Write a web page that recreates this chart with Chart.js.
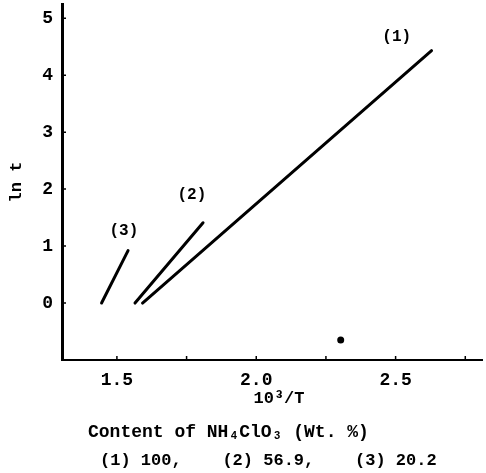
<!DOCTYPE html>
<html>
<head>
<meta charset="utf-8">
<script src="https://cdn.jsdelivr.net/npm/chart.js@4"></script>
<style>
  body { margin: 0; background: #fff; }
  canvas { display: block; }
</style>
</head>
<body>
<canvas id="myChart" width="486" height="473"></canvas>
<script>
// values (x = 10^3/T, y = ln t)
var line1X = [1.592, 2.629];
var line1Y = [0, 4.43];
var line2X = [1.565, 1.809];
var line2Y = [0, 1.41];
var line3X = [1.445, 1.540];
var line3Y = [0, 0.92];
var dotX = [2.303];
var dotY = [-0.65];

// curve labels and where they sit (data units)
var curveNames = ['(1)', '(2)', '(3)'];
var nameX = [2.504, 1.769, 1.525];
var nameY = [4.67, 1.89, 1.26];

var xTickLabels = ['1.5', '2.0', '2.5'];
var yTickLabels = ['0', '1', '2', '3', '4', '5'];
var xTitle = '10\u00b3/T';
var yTitle = 'ln t';
var caption = ['Content of NH\u2084ClO\u2083 (Wt. %)', '(1) 100,    (2) 56.9,    (3) 20.2'];

var FONT = "'Liberation Mono', 'DejaVu Sans Mono', monospace";

function pts(xs, ys) {
    return xs.map(function (x, i) { return { x: x, y: ys[i] }; });
}

function lineSet(xs, ys) {
    return {
        data: pts(xs, ys),
        showLine: true,
        borderColor: '#000',
        borderWidth: 3,
        borderCapStyle: 'round',
        pointRadius: 0,
        fill: false
    };
}

// small inward ticks, curve names and the texts under the axis
var extras = {
    id: 'extras',
    afterDraw: function (chart) {
        var ctx = chart.ctx;
        var xs = chart.scales.x, ys = chart.scales.y;
        var area = chart.chartArea;
        ctx.save();
        ctx.strokeStyle = '#000';
        ctx.lineWidth = 1.5;
        ctx.beginPath();
        xs.ticks.forEach(function (t) {
            var px = xs.getPixelForValue(t.value);
            ctx.moveTo(px, area.bottom);
            ctx.lineTo(px, area.bottom - 4);
        });
        ys.ticks.forEach(function (t) {
            var py = ys.getPixelForValue(t.value);
            ctx.moveTo(area.left, py);
            ctx.lineTo(area.left + 4, py);
        });
        ctx.stroke();

        ctx.fillStyle = '#000';
        ctx.font = 'bold 16px ' + FONT;
        ctx.textAlign = 'center';
        ctx.textBaseline = 'middle';
        curveNames.forEach(function (n, i) {
            ctx.fillText(n, xs.getPixelForValue(nameX[i]), ys.getPixelForValue(nameY[i]));
        });

        ctx.font = 'bold 17px ' + FONT;
        ctx.fillText(xTitle, 279, 399);
        ctx.textAlign = 'left';
        ctx.fillText(caption[1], 100, 461);
        ctx.font = 'bold 18px ' + FONT;
        ctx.fillText(caption[0], 88, 432);
        ctx.restore();
    }
};

var ctx = document.getElementById('myChart').getContext('2d');
var myChart = new Chart(ctx, {
    type: 'scatter',
    data: {
        datasets: [
            lineSet(line1X, line1Y),
            lineSet(line2X, line2Y),
            lineSet(line3X, line3Y),
            {
                data: pts(dotX, dotY),
                pointRadius: 3.5,
                pointBackgroundColor: '#000',
                pointBorderWidth: 0
            }
        ]
    },
    plugins: [extras],
    options: {
        responsive: false,
        animation: false,
        layout: { padding: { top: 3, right: 3, left: 0, bottom: 0 } },
        plugins: {
            legend: { display: false },
            tooltip: { enabled: false }
        },
        scales: {
            x: {
                type: 'linear',
                min: 1.303,
                max: 2.81,
                afterFit: function (s) {
                    s.height = 113;
                    s.paddingLeft = 0;
                    s.paddingRight = 0;
                },
                grid: { display: false, drawTicks: false },
                border: { display: true, color: '#000', width: 2 },
                ticks: {
                    stepSize: 0.25,
                    includeBounds: false,
                    autoSkip: false,
                    maxRotation: 0,
                    padding: 10,
                    color: '#000',
                    font: { family: FONT, size: 18, weight: 'bold' },
                    callback: function (v) {
                        var s = Number(v).toFixed(1);
                        return (Math.abs(v * 2 - Math.round(v * 2)) < 1e-6 && xTickLabels.indexOf(s) >= 0) ? s : '';
                    }
                }
            },
            y: {
                min: -1,
                max: 5.25,
                afterFit: function (s) {
                    s.width = 62;
                    s.paddingTop = 0;
                    s.paddingBottom = 0;
                },
                grid: { display: false, drawTicks: false },
                border: { display: true, color: '#000', width: 3 },
                title: {
                    display: true,
                    text: yTitle,
                    color: '#000',
                    font: { family: FONT, size: 17, weight: 'bold' },
                    padding: { top: 7, bottom: 7 }
                },
                ticks: {
                    stepSize: 1,
                    includeBounds: false,
                    padding: 9,
                    color: '#000',
                    font: { family: FONT, size: 18, weight: 'bold' },
                    callback: function (v) {
                        var s = String(v);
                        return yTickLabels.indexOf(s) >= 0 ? s : '';
                    }
                }
            }
        }
    }
});
</script>
</body>
</html>
